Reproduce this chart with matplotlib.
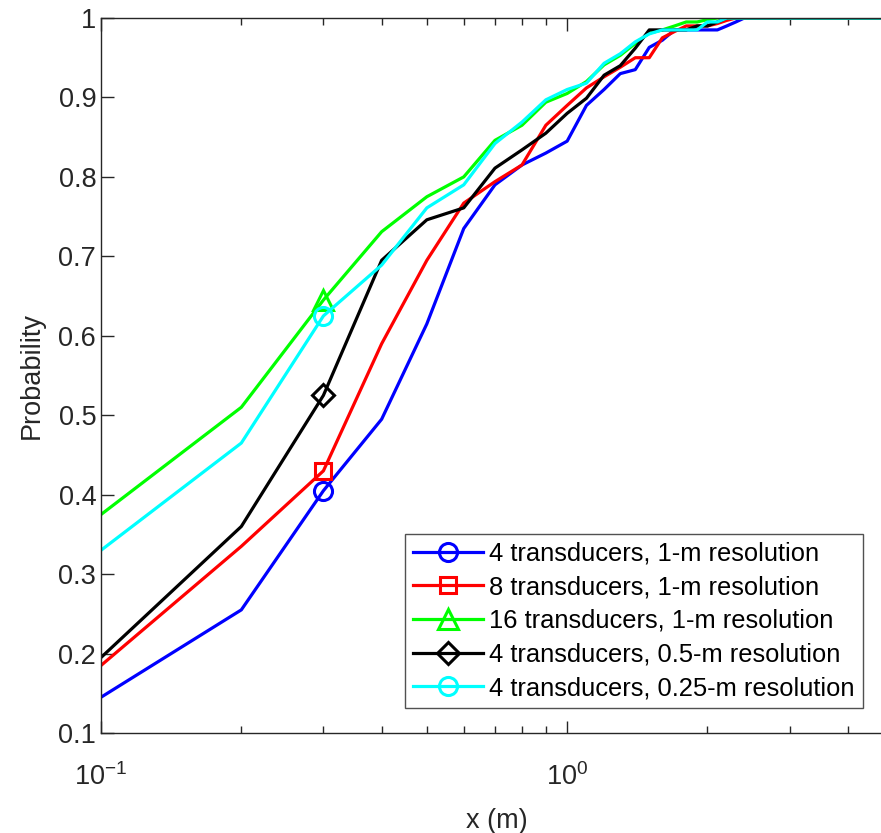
import numpy as np
import matplotlib
matplotlib.use('Agg')
import matplotlib.pyplot as plt
from matplotlib.ticker import FuncFormatter, LogLocator

plt.rcParams['font.family'] = ['Liberation Sans', 'DejaVu Sans']
plt.rcParams['mathtext.fontset'] = 'custom'
plt.rcParams['mathtext.rm'] = 'Liberation Sans'
plt.rcParams['mathtext.it'] = 'Liberation Sans:italic'

# error distance (m)
x_m = [0.1, 0.2, 0.3, 0.4, 0.5, 0.6, 0.7, 0.8, 0.9, 1.0,
       1.1, 1.2, 1.3, 1.4, 1.5, 1.6, 1.7, 1.8, 1.9, 2.0,
       2.1, 2.2, 2.3, 2.4, 2.5, 3.0, 4.0, 5.0]

p_4tx_1m = [0.145, 0.255, 0.405, 0.495, 0.615, 0.735, 0.790, 0.815, 0.830, 0.845,
            0.890, 0.910, 0.930, 0.935, 0.963, 0.972, 0.985, 0.985, 0.985, 0.985,
            0.985, 0.990, 0.995, 1.0, 1.0, 1.0, 1.0, 1.0]
p_8tx_1m = [0.185, 0.335, 0.430, 0.590, 0.695, 0.767, 0.794, 0.815, 0.865, 0.890,
            0.912, 0.926, 0.938, 0.950, 0.950, 0.975, 0.983, 0.990, 0.990, 0.990,
            0.993, 0.997, 1.0, 1.0, 1.0, 1.0, 1.0, 1.0]
p_16tx_1m = [0.375, 0.510, 0.645, 0.731, 0.775, 0.800, 0.846, 0.865, 0.894, 0.905,
             0.920, 0.941, 0.953, 0.968, 0.981, 0.985, 0.990, 0.995, 0.995, 0.998,
             1.0, 1.0, 1.0, 1.0, 1.0, 1.0, 1.0, 1.0]
p_4tx_05m = [0.195, 0.360, 0.525, 0.695, 0.746, 0.761, 0.811, 0.834, 0.855, 0.880,
             0.899, 0.928, 0.940, 0.962, 0.985, 0.985, 0.985, 0.985, 0.990, 0.990,
             0.995, 1.0, 1.0, 1.0, 1.0, 1.0, 1.0, 1.0]
p_4tx_025m = [0.330, 0.465, 0.625, 0.689, 0.761, 0.790, 0.842, 0.869, 0.897, 0.910,
              0.918, 0.943, 0.955, 0.970, 0.980, 0.985, 0.985, 0.985, 0.985, 0.995,
              0.995, 1.0, 1.0, 1.0, 1.0, 1.0, 1.0, 1.0]

labels = ['4 transducers, 1-m resolution',
          '8 transducers, 1-m resolution',
          '16 transducers, 1-m resolution',
          '4 transducers, 0.5-m resolution',
          '4 transducers, 0.25-m resolution']
series = [p_4tx_1m, p_8tx_1m, p_16tx_1m, p_4tx_05m, p_4tx_025m]
colors = ['#0000ff', '#ff0000', '#00ff00', '#000000', '#00ffff']
markers = ['o', 's', '^', 'D', 'o']
msizes = [13, 12, 14, 11, 13]

W, H = 881, 833
fig = plt.figure(figsize=(W / 100, H / 100), dpi=100)
ax = fig.add_axes([101 / W, 1 - 733 / H, (893 - 101) / W, (733 - 18) / H])

for y, c, m, ms, lab in zip(series, colors, markers, msizes, labels):
    ax.plot(x_m, y, color=c, lw=2.3, marker=m, markevery=[2], ms=ms,
            mfc='none', mec=c, mew=2.2, label=lab)

ax.set_xscale('log')
ax.set_xlim(0.1, 5)
ax.set_ylim(0.1, 1)
ax.set_yticks([0.1, 0.2, 0.3, 0.4, 0.5, 0.6, 0.7, 0.8, 0.9, 1.0])
ax.yaxis.set_major_formatter(FuncFormatter(lambda v, p: '%g' % round(v, 2)))
ax.xaxis.set_major_locator(LogLocator(base=10))
ax.xaxis.set_minor_locator(LogLocator(base=10, subs=np.arange(2, 10)))

axcol = '#262626'
for s in ax.spines.values():
    s.set_color(axcol)
    s.set_linewidth(1.0)
ax.tick_params(which='both', direction='in', top=True, right=True,
               colors=axcol, labelsize=19.5)
ax.tick_params(which='major', length=9, width=1.0)
ax.tick_params(which='minor', length=5, width=1.0)
ax.tick_params(axis='x', which='major', pad=22)

ax.set_xlabel('x (m)', fontsize=19.5, color=axcol, labelpad=12)
ax.set_ylabel('Probability', fontsize=19.5, color=axcol, labelpad=10)

leg = ax.legend(loc='lower left', bbox_to_anchor=((405 - 101) / (893 - 101), (733 - 708) / (733 - 18)),
                fontsize=18.4, frameon=True, fancybox=False, edgecolor=axcol,
                handlelength=2.75, handletextpad=0.25, borderpad=0.3,
                labelspacing=0.38, borderaxespad=0)
leg.get_frame().set_linewidth(1.0)

fig.savefig('out.png', dpi=100)
